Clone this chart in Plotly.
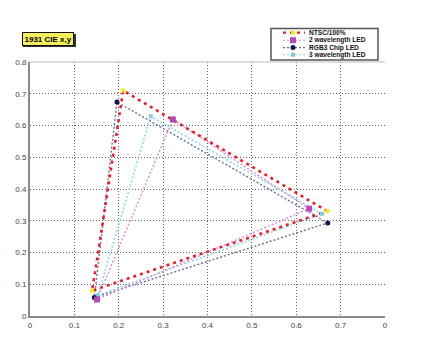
import plotly.graph_objects as go

# ---------------- data ----------------
series_names = ["NTSC/100%", "2 wavelength LED", "RGB3 Chip LED", "3 wavelength LED"]
# primaries order: R, G, B
ntsc_x = [0.670, 0.210, 0.140]
ntsc_y = [0.330, 0.710, 0.080]
led2_x = [0.629, 0.322, 0.151]
led2_y = [0.338, 0.619, 0.052]
rgb3_x = [0.671, 0.196, 0.145]
rgb3_y = [0.293, 0.674, 0.058]
led3_x = [0.658, 0.272, 0.153]
led3_y = [0.322, 0.629, 0.065]

x_ticks = [0, 0.1, 0.2, 0.3, 0.4, 0.5, 0.6, 0.7, 0.8]
x_ticklabels = ["0", "0.1", "0.2", "0.3", "0.4", "0.5", "0.6", "0.7", "0"]
y_ticks = [0, 0.1, 0.2, 0.3, 0.4, 0.5, 0.6, 0.7, 0.8]
y_ticklabels = ["0", "0.1", "0.2", "0.3", "0.4", "0.5", "0.6", "0.7", "0.8"]

# ---------------- styles ----------------
line_colors = ["#e0202e", "#d98ad6", "#6a6e90", "#86d2dc"]
marker_colors = ["#ffe81a", "#b24cb4", "#10134a", "#7fcfd9"]
marker_symbols = ["square", "square", "circle", "square"]
marker_sizes = [4, 6, 5, 4]
line_widths = [2.6, 1.4, 1.4, 1.4]
line_dashes = ["3px,4px", "2px,2px", "2px,2px", "2px,2px"]

L, R, T, B = 30, 61, 62, 44
W, H = 446, 360
PW, PH = W - L - R, H - T - B


def px(xp):
    return (xp - L) / PW


def py(yp):
    return (H - B - yp) / PH


fig = go.Figure()

data = [(ntsc_x, ntsc_y), (led2_x, led2_y), (rgb3_x, rgb3_y), (led3_x, led3_y)]
draw_order = [3, 2, 1, 0]
for i in draw_order:
    xs, ys = data[i]
    fig.add_trace(go.Scatter(
        x=xs + [xs[0]], y=ys + [ys[0]],
        mode="lines", name=series_names[i], showlegend=False,
        line=dict(color=line_colors[i], width=line_widths[i], dash=line_dashes[i]),
        hoverinfo="skip",
    ))
for i in draw_order:
    xs, ys = data[i]
    fig.add_trace(go.Scatter(
        x=xs, y=ys, mode="markers", name=series_names[i], showlegend=False,
        marker=dict(color=marker_colors[i], size=marker_sizes[i], symbol=marker_symbols[i],
                    line=dict(width=0)),
    ))

shapes = []
annotations = []

# top frame line
shapes.append(dict(type="line", xref="paper", yref="paper", x0=0, x1=1, y0=1, y1=1,
                   line=dict(color="#bbbbbb", width=1)))

# manual compact legend
box_x0, box_x1, box_y0, box_y1 = 271, 378, 28.5, 60
shapes.append(dict(type="rect", xref="paper", yref="paper",
                   x0=px(box_x0), x1=px(box_x1), y0=py(box_y1), y1=py(box_y0),
                   fillcolor="white", line=dict(color="#555555", width=1.5)))
row_y = [32.6, 40.2, 47.6, 54.8]
for i, name in enumerate(series_names):
    yy = py(row_y[i])
    shapes.append(dict(type="line", xref="paper", yref="paper",
                       x0=px(283), x1=px(305), y0=yy, y1=yy,
                       line=dict(color=line_colors[i], width=line_widths[i] * 0.8,
                                 dash=line_dashes[i])))
    s = marker_sizes[i] / 2.0
    mx = 293
    shapes.append(dict(type="circle" if marker_symbols[i] == "circle" else "rect",
                       xref="paper", yref="paper",
                       x0=px(mx - s), x1=px(mx + s), y0=py(row_y[i] + s), y1=py(row_y[i] - s),
                       fillcolor=marker_colors[i], line=dict(width=0)))
    annotations.append(dict(xref="paper", yref="paper", x=px(306.5), y=yy,
                            xanchor="left", yanchor="middle", showarrow=False,
                            text="<b>" + name + "</b>",
                            font=dict(family="Liberation Sans, Arial", size=6.6, color="#111111")))

# title badge with shadow
shapes.append(dict(type="rect", xref="paper", yref="paper",
                   x0=px(23), x1=px(76), y0=py(47), y1=py(34),
                   fillcolor="#333333", line=dict(width=0)))
annotations.append(dict(xref="paper", yref="paper", x=px(47.5), y=py(38.7),
                        xanchor="center", yanchor="middle", showarrow=False,
                        text="<b>1931 CIE x,y</b>", bgcolor="#f4ef5c",
                        bordercolor="#111111", borderwidth=1, borderpad=1.5,
                        font=dict(family="Liberation Sans, Arial", size=8, color="#000000")))

axis_common = dict(
    showgrid=True, gridcolor="#666666", griddash="1px,2px", gridwidth=1,
    zeroline=False, showline=True, linecolor="#8a8a8a", linewidth=2,
    ticks="", tickfont=dict(family="Liberation Sans, Arial", size=8, color="#444444"),
    mirror=False,
)

fig.update_layout(
    width=W, height=H,
    margin=dict(l=L, r=R, t=T, b=B),
    paper_bgcolor="white", plot_bgcolor="white",
    showlegend=False,
    xaxis=dict(range=[0, 0.8], tickvals=x_ticks, ticktext=x_ticklabels, **axis_common),
    yaxis=dict(range=[0, 0.8], tickvals=y_ticks, ticktext=y_ticklabels, **axis_common),
    shapes=shapes, annotations=annotations,
)

fig.write_html("out.html")
